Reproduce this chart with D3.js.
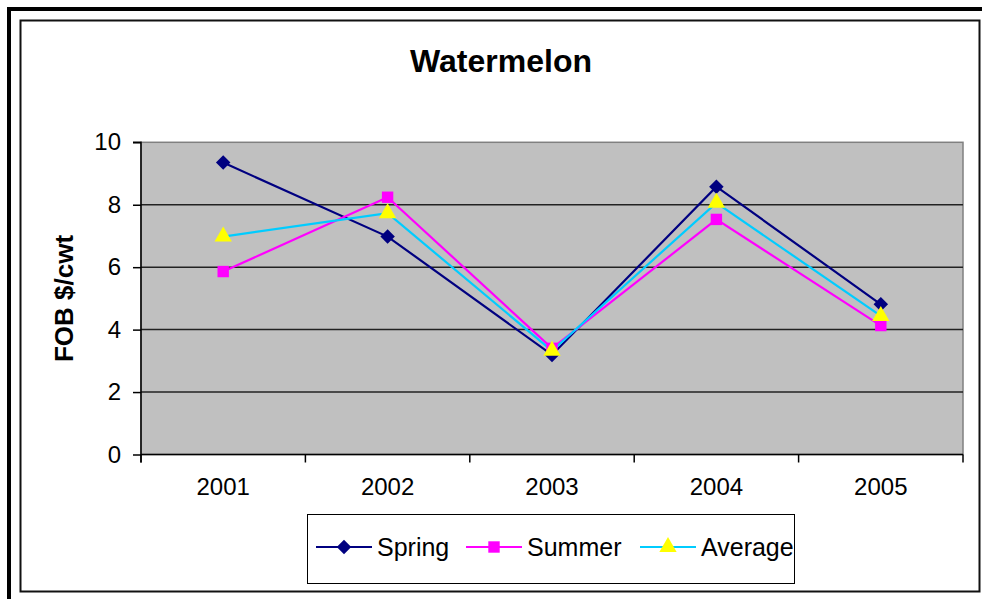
<!DOCTYPE html>
<meta charset="utf-8">
<html>
<head>
  <script src="https://d3js.org/d3.v7.min.js" charset="utf-8"></script>
</head>
<style>
* {
    font-family: "Liberation Sans", Arial, sans-serif;
}
body {
    margin: 0;
    background-color: white;
}
.tick text {
    font-size: 24px;
    fill: black;
}
</style>
<body>
<div id="container"></div>
<script type="text/javascript">

var years = ["2001", "2002", "2003", "2004", "2005"];
var spring = [9.35, 6.98, 3.19, 8.58, 4.81];
var summer = [5.86, 8.24, 3.40, 7.53, 4.13];
var average = [6.98, 7.73, 3.32, 8.06, 4.44];
var yTicks = [0, 2, 4, 6, 8, 10];

var series = [
    {name: "Spring", values: spring, line: "#000080", fill: "#000080", shape: d3.symbolSquare, size: 105, rot: 45},
    {name: "Summer", values: summer, line: "#ff00ff", fill: "#ff00ff", shape: d3.symbolSquare, size: 130, rot: 0},
    {name: "Average", values: average, line: "#00ccff", fill: "#ffff00", shape: d3.symbolTriangle, size: 130, rot: 0}
];

var width = 982;
var height = 599;
var plot = {left: 141, top: 142.3, right: 963, bottom: 454.5};

const svg = d3.select("#container")
              .append("svg")
              .attr("width", width)
              .attr("height", height)

// frames
svg.append("rect")
   .attr("x", 9).attr("y", 9)
   .attr("width", 1000).attr("height", 1000)
   .attr("fill", "none").attr("stroke", "black").attr("stroke-width", 4)

svg.append("rect")
   .attr("x", 20.5).attr("y", 20.5)
   .attr("width", 959).attr("height", 571)
   .attr("fill", "white").attr("stroke", "#111").attr("stroke-width", 2)

var xScale = d3.scaleBand()
               .domain(years)
               .range([plot.left, plot.right])
               .padding(0)

var yScale = d3.scaleLinear()
               .domain([0, 10])
               .range([plot.bottom, plot.top])

// plot area
svg.append("rect")
   .attr("x", plot.left).attr("y", plot.top)
   .attr("width", plot.right - plot.left).attr("height", plot.bottom - plot.top)
   .attr("fill", "#c0c0c0").attr("stroke", "#808080").attr("stroke-width", 1.5)

// grid lines
svg.append("g")
   .selectAll("line")
   .data(yTicks.filter((d) => d > 0 && d < 10))
   .enter()
   .append("line")
   .attr("x1", plot.left).attr("x2", plot.right)
   .attr("y1", (d) => yScale(d)).attr("y2", (d) => yScale(d))
   .attr("stroke", "#222").attr("stroke-width", 1.5)

// y axis
var yAxis = d3.axisLeft(yScale).tickValues(yTicks).tickSize(8).tickPadding(12)
var gy = svg.append("g")
   .attr("transform", "translate(" + plot.left + ",0)")
   .call(yAxis)
gy.select(".domain").attr("stroke", "black").attr("stroke-width", 1.5)
  .attr("d", "M-8," + plot.top + "H0V" + (plot.bottom + 8))
gy.selectAll(".tick line").attr("stroke", "black").attr("stroke-width", 1.5)

// x axis
var xAxis = d3.axisBottom(xScale).tickSize(0).tickPadding(23)
var gx = svg.append("g")
   .attr("transform", "translate(0," + plot.bottom + ")")
   .call(xAxis)
gx.select(".domain").attr("stroke", "black").attr("stroke-width", 1.5)
  .attr("d", "M" + plot.left + ",0H" + plot.right)

var bounds = years.map((d) => xScale(d)).concat([plot.right])
gx.selectAll(".bound")
  .data(bounds)
  .enter()
  .append("line")
  .attr("class", "bound")
  .attr("x1", (d) => d).attr("x2", (d) => d)
  .attr("y1", 0).attr("y2", 8)
  .attr("stroke", "black").attr("stroke-width", 1.5)

// lines and markers
var cx = (i) => xScale(years[i]) + xScale.bandwidth() / 2

var line = d3.line()
             .x((d, i) => cx(i))
             .y((d) => yScale(d))

series.forEach(function(s) {
    svg.append("path")
       .datum(s.values)
       .attr("d", line)
       .attr("fill", "none")
       .attr("stroke", s.line)
       .attr("stroke-width", 2.2)
})

series.forEach(function(s) {
    svg.append("g")
       .selectAll("path")
       .data(s.values)
       .enter()
       .append("path")
       .attr("d", d3.symbol().type(s.shape).size(s.size))
       .attr("transform", (d, i) => "translate(" + cx(i) + "," + yScale(d) + ") rotate(" + s.rot + ")")
       .attr("fill", s.fill)
})

// title
svg.append("text")
   .attr("x", 501)
   .attr("y", 72)
   .attr("text-anchor", "middle")
   .style("font-size", "32px")
   .style("font-weight", "bold")
   .text("Watermelon")

// y label
svg.append("text")
   .attr("transform", "translate(73,298.5) rotate(-90)")
   .attr("text-anchor", "middle")
   .style("font-size", "26px")
   .style("font-weight", "bold")
   .text("FOB $/cwt")

// legend
var legend = svg.append("g")
legend.append("rect")
   .attr("x", 307.5).attr("y", 514.5)
   .attr("width", 487).attr("height", 69)
   .attr("fill", "white").attr("stroke", "black").attr("stroke-width", 1)

var legendX = [316, 466, 640]
series.forEach(function(s, i) {
    var lx = legendX[i]
    legend.append("line")
          .attr("x1", lx).attr("x2", lx + 56)
          .attr("y1", 547).attr("y2", 547)
          .attr("stroke", s.line).attr("stroke-width", 2.2)
    legend.append("path")
          .attr("d", d3.symbol().type(s.shape).size(s.size))
          .attr("transform", "translate(" + (lx + 28) + ",547) rotate(" + s.rot + ")")
          .attr("fill", s.fill)
    legend.append("text")
          .attr("x", lx + 61)
          .attr("y", 556)
          .style("font-size", "25px")
          .text(s.name)
})

</script>
</body>
</html>
